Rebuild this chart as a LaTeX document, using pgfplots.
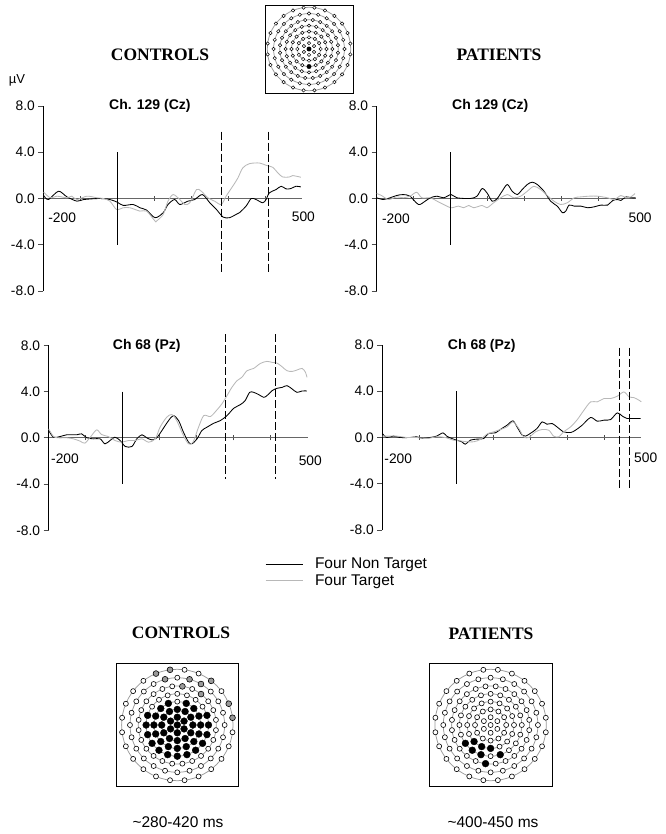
\documentclass[border=0pt]{standalone}
\usepackage{fontspec}
\setmainfont{Liberation Sans}
\newfontfamily\serifb{Liberation Serif}
\usepackage{pgfplots}
\pgfplotsset{compat=1.18}
\usepackage{pgfplotstable}

% electrode layout: angle (deg), radius, state in controls map, patients map, top map
\pgfplotstableread{
a r c p t
0 0 b o b
30 0.14 b o o
90 0.14 b o o
150 0.14 b o o
210 0.14 b o o
270 0.14 b o o
330 0.14 b o o
0 0.28 b o o
30 0.28 b o o
60 0.28 b o o
90 0.28 b o o
120 0.28 b o o
150 0.28 b o o
180 0.28 b o o
210 0.28 b o o
240 0.28 b o o
270 0.28 b o o
300 0.28 b o o
330 0.28 b o o
0 0.42 b o o
22.5 0.42 b o o
45 0.42 b o o
67.5 0.42 b o o
90 0.42 o o o
112.5 0.42 b o o
135 0.42 b o o
157.5 0.42 b o o
180 0.42 b o o
202.5 0.42 b o o
225 0.42 b b o
247.5 0.42 b b o
270 0.42 b b b
292.5 0.42 b o o
315 0.42 b o o
337.5 0.42 b o o
0 0.56 b o o
18 0.56 b o o
36 0.56 o o o
54 0.56 o o o
72 0.56 o o o
90 0.56 o o o
108 0.56 o o o
126 0.56 o o o
144 0.56 o o o
162 0.56 b o o
180 0.56 b o o
198 0.56 b o o
216 0.56 b b o
234 0.56 b b o
252 0.56 b b o
270 0.56 b o o
288 0.56 b b o
306 0.56 b o o
324 0.56 b o o
342 0.56 b o o
7.5 0.70 o o o
22.5 0.70 o o o
37.5 0.70 o o o
52.5 0.70 g o o
67.5 0.70 o o o
82.5 0.70 g o o
97.5 0.70 o o o
112.5 0.70 o o o
127.5 0.70 o o o
142.5 0.70 o o o
157.5 0.70 o o o
172.5 0.70 o o o
187.5 0.70 o o o
202.5 0.70 o o o
217.5 0.70 o o o
232.5 0.70 o o o
247.5 0.70 o o o
262.5 0.70 o b o
277.5 0.70 o o o
292.5 0.70 o o o
307.5 0.70 o o o
322.5 0.70 o o o
337.5 0.70 o o o
352.5 0.70 o o o
0 0.85 o o o
15 0.85 o o o
30 0.85 o o o
45 0.85 o o o
60 0.85 g o o
75 0.85 g o o
90 0.85 o o o
105 0.85 g o o
120 0.85 o o o
135 0.85 o o o
150 0.85 o o o
165 0.85 o o o
180 0.85 o o o
195 0.85 o o o
210 0.85 o o o
225 0.85 o o o
240 0.85 o o o
255 0.85 o o o
270 0.85 o o o
285 0.85 o o o
300 0.85 o o o
315 0.85 o o o
330 0.85 o o o
345 0.85 o o o
7.5 1.0 g o o
22.5 1.0 g o o
37.5 1.0 o o o
52.5 1.0 g o o
67.5 1.0 o o o
82.5 1.0 o o o
97.5 1.0 g o o
112.5 1.0 g o o
127.5 1.0 o o o
142.5 1.0 o o o
157.5 1.0 o o o
172.5 1.0 o o o
187.5 1.0 o o o
202.5 1.0 o o o
217.5 1.0 o o o
232.5 1.0 o o o
247.5 1.0 o o o
262.5 1.0 o o o
277.5 1.0 o o o
292.5 1.0 o o o
307.5 1.0 o o o
322.5 1.0 o o o
337.5 1.0 o o o
352.5 1.0 o o o
}\elec

\tikzset{
  ttl/.style={font=\bfseries\fontsize{14}{16}\selectfont},
  tl/.style={font=\fontsize{13.8}{16}\selectfont},
  ring/.style={draw=black!40, line width=0.75pt},
}
\pgfplotsset{
  erp/.style={
    scale only axis, width=259pt, height=185pt, anchor=south west,
    xmin=-200, xmax=500, ymin=-8, ymax=8,
    axis x line=middle, axis y line=left,
    axis line style={-},
    x axis line style={draw=black!60, line width=1pt},
    y axis line style={draw=black, line width=0.7pt},
    xtick={-100,0,100,200,300,400}, xticklabels={},
    ytick={-8,-4,0,4,8}, yticklabels={-8.0,-4.0,0.0,4.0,8.0},
    xtick align=center, ytick align=outside,
    major tick length=5pt,
    tick style={black!70, line width=0.6pt},
    tick label style={font=\fontsize{13.8}{16}\selectfont},
    hide obscured x ticks=false, hide obscured y ticks=false,
    clip=false,
  },
  blk/.style={black, line width=0.85pt, smooth, tension=0.5},
  gry/.style={draw=black!28, line width=0.85pt, smooth, tension=0.5},
  zl/.style={black, line width=0.8pt, forget plot},
  dl/.style={black, line width=1pt, dash pattern=on 8pt off 3pt, forget plot},
  headmap/.style 2 args={
    scale only axis, width=#1, height=#1, anchor=center,
    xmin=-#2, xmax=#2, ymin=-#2, ymax=#2,
    xtick=\empty, ytick=\empty, axis line style={black, line width=0.7pt},
    clip=false,
  },
}

\begin{document}
\begin{tikzpicture}[x=1pt,y=1pt]
\path[use as bounding box] (0,0) rectangle (665,-834);

% ---------------- texts around
\node[font=\fontsize{13}{15}\selectfont] at (17,-80) {µV};
\node[font=\serifb\bfseries\fontsize{17.5}{20}\selectfont] at (160,-55) {CONTROLS};
\node[font=\serifb\bfseries\fontsize{17.5}{20}\selectfont] at (499,-55) {PATIENTS};
\node[font=\serifb\bfseries\fontsize{17.5}{20}\selectfont] at (181,-633) {CONTROLS};
\node[font=\serifb\bfseries\fontsize{17.5}{20}\selectfont] at (491,-634) {PATIENTS};
\node[font=\fontsize{15.5}{18}\selectfont] at (178,-822) {\char"7E 280-420 ms};
\node[font=\fontsize{15.5}{18}\selectfont] at (493,-822) {\char"7E 400-450 ms};

% head outline rings (background of the electrode maps)
\foreach \rr in {41.7,35.4,29.2,23.4,17.5,11.7} {\draw[ring] (309pt,-49pt) circle[radius=\rr pt];}
\foreach \rr in {55.7,47.3,39.0,31.2,23.4,15.6} {\draw[ring] (177.3pt,-725pt) circle[radius=\rr pt];}
\foreach \rr in {55.7,47.3,39.0,31.2,23.4,15.6} {\draw[ring] (490.6pt,-725pt) circle[radius=\rr pt];}

% ---------------- top left: controls Cz
\begin{axis}[erp, at={(43.3pt,-291pt)}]
\addplot[blk] coordinates {(-199,0.26) (-186,-0.09) (-159,0.63) (-136,0.14) (-109,-0.23) (-91,-0.09) (-47,0) (-20,-0.09) (0,-0.32) (16,-0.6) (43,-0.52) (61,-0.8) (79,-1.0) (102,-1.66) (124,-1.23) (137,-0.52) (155,-0.09) (169,-0.52) (191,-0.23) (209,-0.09) (230,0.34) (250,-0.37) (268,-0.95) (286,-1.61) (303,-1.66) (321,-1.38) (330,-1.23) (348,-0.66) (362,0) (375,-0.09) (393,-0.37) (402,-0.09) (411,0.49) (429,0.77) (443,1.06) (456,0.83) (469,0.86) (483,1.06) (496,1.0)};
\addplot[gry] coordinates {(-199,0.54) (-181,0.06) (-163,0.2) (-136,0.06) (-123,0.2) (-109,-0.09) (-82,0.2) (-55,0.06) (-38,0) (-20,-0.23) (-2,-0.95) (16,-0.8) (34,-0.8) (61,-1.09) (79,-1.09) (102,-1.95) (106,-1.95) (124,-1.38) (137,-0.23) (151,0.34) (169,-0.09) (182,-0.52) (196,-0.37) (214,0.77) (227,0.63) (245,0.06) (263,-0.23) (281,-0.52) (294,0.2) (312,1.06) (326,1.78) (339,2.64) (357,3.01) (384,3.07) (402,2.87) (420,2.70) (434,2.21) (447,1.86) (465,1.86) (474,1.98) (496,1.84)};
\addplot[zl] coordinates {(0,4) (0,-4)};
\addplot[dl] coordinates {(281,5.79) (281,-6.48)};
\addplot[dl] coordinates {(408,5.79) (408,-6.48)};
\node[ttl] at (axis cs:88,8) {Ch. 129 (Cz)};
\node[tl] at (axis cs:-149,-1.7) {-200};
\node[tl] at (axis cs:503,-1.55) {500};
\end{axis}

% ---------------- top right: patients Cz
\begin{axis}[erp, at={(376.7pt,-291pt)}]
\addplot[blk] coordinates {(-200,0.06) (-182,-0.09) (-164,0.06) (-146,0.26) (-128,0.34) (-110,0.2) (-87,-0.52) (-69,-0.23) (-55,0.06) (-37,0.2) (-19,0.06) (1,0.34) (17,0.06) (53,0) (71,0.2) (85,0.86) (98,0.49) (112,-0.23) (125,-0.03) (139,0.63) (153,1.21) (166,0.63) (180,0.34) (193,0.77) (207,1.21) (220,1.41) (234,1.21) (252,0.63) (270,-0.23) (288,-0.66) (302,-1.23) (311,-1.09) (320,-0.57) (334,-0.66) (352,-0.66) (370,-0.8) (388,-0.72) (406,-0.57) (424,-0.57) (438,-0.17) (451,-0.09) (460,-0.17) (474,0.14) (487,0.06) (500,0.06)};
\addplot[gry] coordinates {(-200,0.43) (-187,0.26) (-168,-0.09) (-146,0.14) (-128,0.06) (-110,0.2) (-92,0.54) (-78,0.06) (-55,0.06) (-37,-0.23) (-19,-0.52) (1,-0.8) (21,-0.66) (35,-0.8) (49,-0.6) (62,-0.8) (85,-0.6) (98,-0.8) (116,-0.37) (135,0.06) (153,0.34) (171,0.06) (189,0.2) (207,0.63) (225,1.06) (243,0.77) (261,0.26) (279,-0.23) (297,-0.52) (315,-0.37) (334,0.06) (352,0.14) (374,0.2) (397,0.2) (424,0.06) (442,-0.09) (460,0.26) (474,0.06) (487,0.14) (498,0.43)};
\addplot[zl] coordinates {(0,4) (0,-4)};
\node[ttl] at (axis cs:107,8) {Ch 129 (Cz)};
\node[tl] at (axis cs:-148,-1.75) {-200};
\node[tl] at (axis cs:512,-1.66) {500};
\end{axis}

% ---------------- bottom left: controls Pz
\begin{axis}[erp, at={(48.7pt,-530.3pt)},
  legend style={draw=none, fill=none, at={(axis description cs:0.835,-0.144)}, anchor=north west,
    font=\fontsize{15.5}{18}\selectfont, inner sep=0pt, row sep=2.5pt, column sep=11pt,
    nodes={inner sep=1pt}, cells={anchor=west}},
  legend image code/.code={\draw[#1] (0pt,0pt) -- (37pt,0pt);}]
\addplot[blk] coordinates {(-200,0.63) (-187,0.05) (-169,0.11) (-151,0.26) (-124,0.26) (-111,0.34) (-97,0) (-79,-0.09) (-61,-0.09) (-48,-0.52) (-34,-0.23) (-21,0.05) (-7,-0.23) (7,-0.75) (25,-0.75) (38,-0.09) (52,0.26) (65,0) (79,-0.18) (92,0) (106,0.63) (124,1.49) (137,1.92) (151,1.49) (164,0.5) (178,-0.38) (187,-0.52) (201,-0.09) (214,0.63) (228,0.92) (246,1.26) (264,1.49) (282,1.92) (300,2.55) (318,2.87) (331,3.22) (343,3.93) (354,3.93) (368,3.73) (381,3.5) (390,3.65) (404,4.08) (417,4.28) (431,4.36) (444,4.51) (458,4.22) (471,3.93) (485,4.05) (498,4.05)};
\addplot[gry] coordinates {(-200,0.77) (-187,0.11) (-174,0) (-151,0) (-133,-0.09) (-115,-0.29) (-102,-0.46) (-84,0.2) (-70,0.69) (-57,0.28) (-39,0.11) (-21,-0.23) (-3,-0.38) (16,-0.23) (34,-0.23) (52,-0.09) (70,-0.38) (88,-0.09) (101,0.92) (119,1.78) (133,2.01) (146,1.49) (164,0.2) (178,-0.52) (190,-0.38) (205,0.92) (219,1.92) (237,1.84) (253,2.35) (268,2.93) (282,3.65) (295,4.36) (309,4.94) (322,5.23) (336,5.8) (354,6.0) (372,6.43) (390,6.61) (404,6.52) (417,6.46) (431,6.14) (444,5.8) (458,5.74) (471,5.86) (485,6.0) (494,5.66) (498,5.23)};
\addplot[zl] coordinates {(0,4) (0,-4)};
\addplot[dl] coordinates {(279,8.96) (279,-3.53)};
\addplot[dl] coordinates {(413,8.96) (413,-3.53)};
\legend{Four Non Target, Four Target}
\node[ttl] at (axis cs:65,7.96) {Ch 68 (Pz)};
\node[tl] at (axis cs:-156,-1.78) {-200};
\node[tl] at (axis cs:507,-2.0) {500};
\end{axis}

% ---------------- bottom right: patients Pz
\begin{axis}[erp, at={(382.3pt,-530pt)}]
\addplot[blk] coordinates {(-200,0.35) (-188,0) (-170,0.12) (-152,0) (-125,0) (-107,0.06) (-89,-0.09) (-71,0) (-53,0.12) (-36,0.4) (-26,0.12) (-12,-0.09) (1,-0.23) (15,-0.37) (24,-0.58) (38,-0.23) (56,-0.14) (74,-0.09) (87,0.35) (105,0.4) (123,0.78) (137,1.06) (153,1.44) (164,0.92) (178,0.2) (187,0.12) (200,0.35) (218,0.78) (232,1.35) (245,1.15) (259,1.21) (272,0.92) (290,0.49) (309,0.43) (322,0.63) (340,1.06) (363,1.73) (381,1.41) (399,1.5) (417,1.55) (435,2.13) (449,1.84) (462,1.64) (471,1.64) (498,1.64)};
\addplot[gry] coordinates {(-200,0.12) (-184,0.12) (-161,0.12) (-134,0) (-107,0) (-80,-0.09) (-53,0.06) (-30,0) (-8,-0.23) (10,-0.29) (29,-0.37) (47,-0.37) (65,-0.17) (83,0.29) (101,0.49) (119,0.69) (137,0.92) (153,1.35) (169,0.78) (182,0.06) (196,0) (214,0.49) (232,0.69) (250,0.63) (263,0.12) (277,0.06) (290,0.49) (309,0.92) (327,1.55) (345,2.36) (363,3.08) (381,3.08) (399,3.37) (417,3.37) (435,3.57) (453,3.94) (467,3.51) (480,3.45) (494,3.22) (500,3.08)};
\addplot[zl] coordinates {(0,4) (0,-4)};
\addplot[dl] coordinates {(442,7.77) (442,-4.49)};
\addplot[dl] coordinates {(467,7.77) (467,-4.49)};
\node[ttl] at (axis cs:69,7.96) {Ch 68 (Pz)};
\node[tl] at (axis cs:-157,-1.81) {-200};
\node[tl] at (axis cs:512,-1.76) {500};
\end{axis}

% ---------------- top electrode map
\begin{axis}[headmap={88pt}{1.055}, at={(309pt,-49pt)}]
\addplot[scatter, only marks, data cs=polar, scatter src=explicit symbolic,
  scatter/classes={
    o={mark=*, mark size=1.7pt, draw=black, fill=white, line width=0.5pt},
    b={mark=*, mark size=2.2pt, draw=black, fill=black}}]
  table[x=a, y=r, meta=t] {\elec};
\end{axis}

% ---------------- controls map
\begin{axis}[headmap={122.5pt}{1.1}, at={(177.3pt,-725pt)}]
\addplot[scatter, only marks, data cs=polar, scatter src=explicit symbolic,
  scatter/classes={
    o={mark=*, mark size=2.5pt, draw=black, fill=white, line width=0.6pt},
    b={mark=*, mark size=3.4pt, draw=black, fill=black},
    g={mark=*, mark size=2.9pt, draw=black, fill=black!40, line width=0.6pt}}]
  table[x=a, y=r, meta=c] {\elec};
\end{axis}

% ---------------- patients map
\begin{axis}[headmap={122.5pt}{1.1}, at={(490.6pt,-725pt)}]
\addplot[scatter, only marks, data cs=polar, scatter src=explicit symbolic,
  scatter/classes={
    o={mark=*, mark size=2.5pt, draw=black, fill=white, line width=0.6pt},
    b={mark=*, mark size=3.4pt, draw=black, fill=black}}]
  table[x=a, y=r, meta=p] {\elec};
\end{axis}
\end{tikzpicture}
\end{document}
